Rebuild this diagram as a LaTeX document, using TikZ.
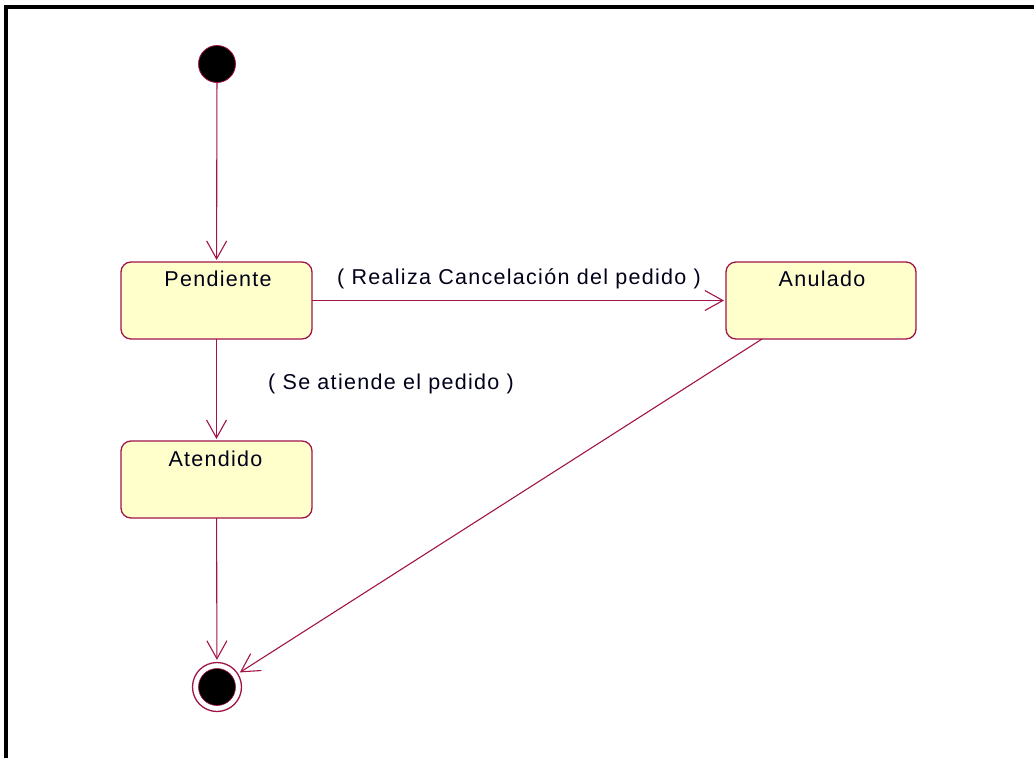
\documentclass[tikz,border=0pt]{standalone}
\usepackage{fontspec}
\setmainfont{Liberation Sans}[LetterSpace=6]
\usetikzlibrary{arrows.meta,calc}
\definecolor{umlline}{HTML}{A0144A}
\definecolor{umlfill}{HTML}{FFFFCC}
\tikzset{
  statebox/.style={draw=umlline, fill=umlfill, line width=1.3pt, rounded corners=10pt,
    minimum width=191pt, minimum height=77pt, inner sep=0pt, outer sep=0pt},
  txt/.style={font=\fontsize{21.5}{24}\selectfont, text=black!90!blue, inner sep=0pt, anchor=base},
  conn/.style={draw=umlline, line width=1.1pt, -{Straight Barb[length=18pt,width=20pt,line width=1.1pt]}, shorten >=2pt},
}
\begin{document}
\begin{tikzpicture}[x=1pt,y=-1pt]
\useasboundingbox (0,0) rectangle (1034,758);
% frame
\draw[line width=3.5pt, black] (6,760) -- (6,7) -- (1036,7);
% states
\node[circle, fill=black, draw=umlline, line width=0.8pt, minimum size=37pt, inner sep=0pt] (ini) at (217,64) {};
\node[statebox] (pend) at (216.5,300.5) {};
\node[statebox, minimum width=190pt] (anul) at (821,300.5) {};
\node[statebox] (aten) at (216.5,479.5) {};
\node[circle, draw=umlline, line width=1.3pt, minimum size=49pt, inner sep=0pt] (fin) at (217,687) {};
\node[circle, fill=black, draw=umlline, line width=0.6pt, minimum size=37pt, inner sep=0pt] (finin) at (fin.center) {};
% texts
\node[txt] (pendt) at ($(pend.north)+(1.5,24.5)$) {Pendiente};
\node[txt] (anult) at ($(anul.north)+(1,24)$) {Anulado};
\node[txt] (atent) at ($(aten.north)+(-1,25)$) {Atendido};
% transitions
\draw[conn] (ini) -- (pend);
\draw[conn] (pend) -- node[txt, pos=0.5, yshift=16.5pt] (lbl1) {( Realiza Cancelación del pedido )} (anul);
\draw[conn] (pend) -- (aten);
\node[txt] (lbl2) at ($(pend.south)+(174.5,50)$) {( Se atiende el pedido )};
\draw[conn] (aten) -- (fin);
\draw[conn] ([xshift=36pt]anul.south west) -- (fin);
\end{tikzpicture}
\end{document}
